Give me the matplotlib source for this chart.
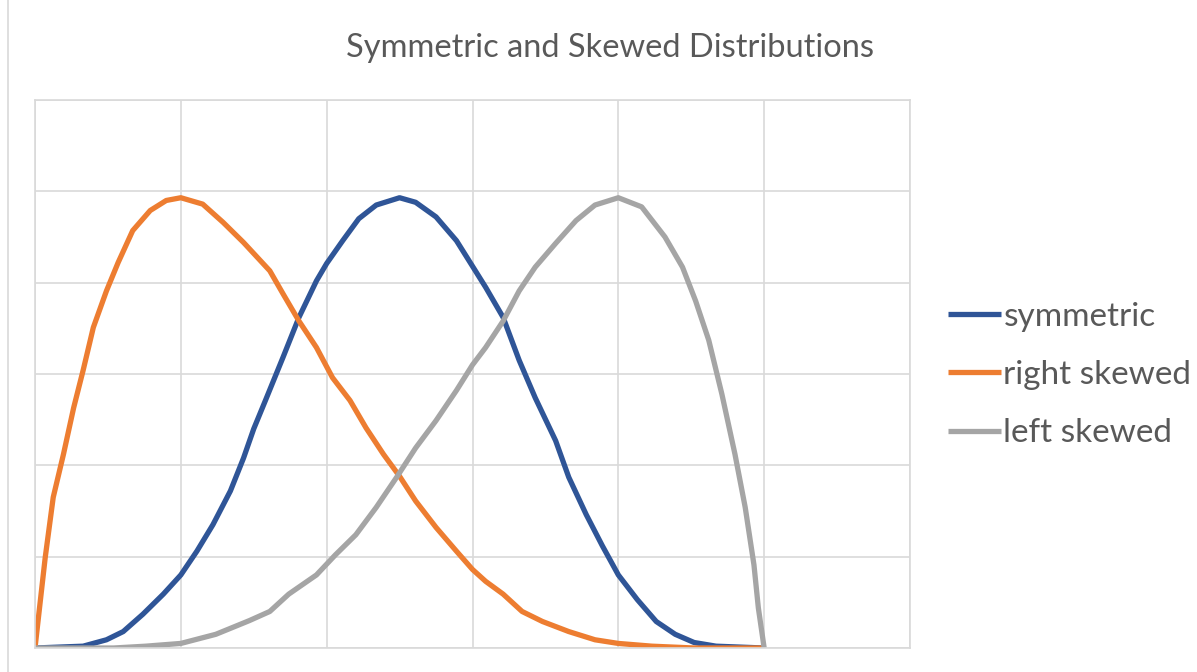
import matplotlib
matplotlib.use("Agg")
import matplotlib.pyplot as plt
from matplotlib.lines import Line2D

# density curves, read at unevenly spaced x positions
sym_x = [0, .066, .098, .121, .148, .176, .2, .222, .244, .268, .286, .3, .316, .34,
         .362, .386, .4, .422, .444, .468, .5, .522, .55, .578, .6, .618, .642, .664,
         .686, .714, .732, .756, .778, .8, .826, .852, .878, .904, .934, 1.0]
sym_y = [0, .01, .045, .09, .185, .295, .4, .53, .675, .86, 1.04, 1.2, 1.355, 1.59,
         1.81, 2.01, 2.105, 2.23, 2.35, 2.425, 2.465, 2.44, 2.36, 2.23, 2.09, 1.975,
         1.81, 1.575, 1.37, 1.135, .935, .73, .56, .4, .265, .145, .075, .03, .01, 0]

right_x = [0, .014, .025, .039, .053, .066, .08, .098, .114, .134, .158, .18, .2, .23,
           .258, .286, .322, .34, .362, .386, .408, .432, .454, .478, .5, .522, .55,
           .578, .6, .618, .642, .668, .696, .732, .768, .8, .846, .904, 1.0]
right_y = [0, .495, .825, 1.06, 1.315, 1.52, 1.755, 1.955, 2.11, 2.285, 2.395, 2.45,
           2.465, 2.43, 2.33, 2.22, 2.065, 1.94, 1.79, 1.645, 1.48, 1.355, 1.205, 1.06,
           .94, .805, .66, .53, .43, .365, .295, .20, .145, .09, .045, .025, .01, 0, 0]

left_x = [0, .108, .152, .2, .248, .294, .322, .348, .386, .412, .44, .468, .496, .522,
          .55, .578, .6, .618, .642, .664, .686, .714, .742, .768, .8, .832, .864, .888,
          .906, .924, .942, .96, .974, .986, .992, 1.0]
left_y = [0, 0, .01, .025, .075, .15, .2, .295, .4, .51, .62, .77, .935, 1.095, 1.245,
          1.41, 1.55, 1.645, 1.79, 1.955, 2.085, 2.215, 2.34, 2.425, 2.465, 2.415, 2.25,
          2.085, 1.9, 1.685, 1.39, 1.06, .77, .455, .22, 0]

labels = ["symmetric", "right skewed", "left skewed"]
colors = ["#2F5597", "#ED7D31", "#A5A5A5"]

plt.rcParams['font.family'] = ['Lato', 'DejaVu Sans']

fig = plt.figure(figsize=(11.97, 6.72), dpi=100)
ax = fig.add_axes([35/1197, 1-648/672, (910-35)/1197, (648-100)/672])

for xs, ys, lab, c in zip([sym_x, right_x, left_x], [sym_y, right_y, left_y], labels, colors):
    ax.plot(xs, ys, color=c, lw=3.8, label=lab, solid_capstyle='butt', solid_joinstyle='round')

ax.set_xlim(0, 1.2)
ax.set_ylim(0, 3)
ax.set_xticks([i*0.2 for i in range(7)])
ax.set_yticks([i*0.5 for i in range(7)])
ax.grid(True, color="#d9d9d9", lw=1.2)
ax.tick_params(length=0, labelbottom=False, labelleft=False)
for s in ax.spines.values():
    s.set_color("#d9d9d9")
    s.set_linewidth(1.2)
ax.set_axisbelow(True)

fig.text(610/1197, 1-48/672, "Symmetric and Skewed Distributions", ha='center', va='center',
         fontsize=23.5, color="#595959")

leg = ax.legend(loc='center left', bbox_to_anchor=(948/1197, 1-375/672), bbox_transform=fig.transFigure,
                frameon=False, fontsize=24, handlelength=1.58, handletextpad=0.08,
                labelspacing=0.85, borderpad=0, borderaxespad=0)
for t in leg.get_texts():
    t.set_color("#595959")

# thin frame edge on the left
fig.add_artist(Line2D([8/1197, 8/1197], [0, 1], transform=fig.transFigure, color="#d9d9d9", lw=1.2))

plt.savefig("out.png", dpi=100)
